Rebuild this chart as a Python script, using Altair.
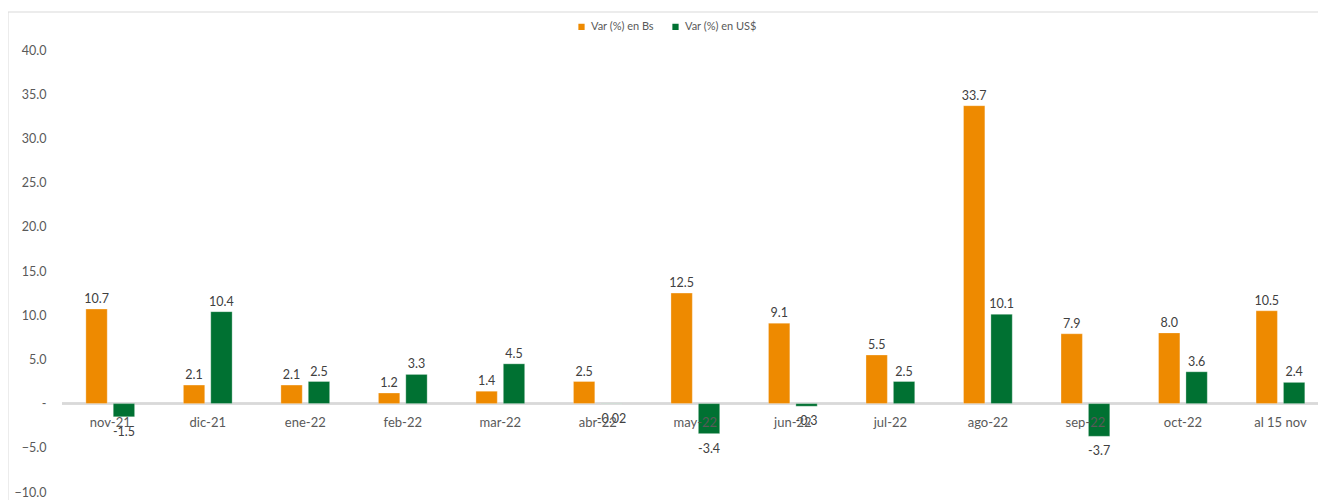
import altair as alt
import pandas as pd

categories = ["nov-21", "dic-21", "ene-22", "feb-22", "mar-22", "abr-22", "may-22",
              "jun-22", "jul-22", "ago-22", "sep-22", "oct-22", "al 15 nov"]
var_bs = [10.7, 2.1, 2.1, 1.2, 1.4, 2.5, 12.5, 9.1, 5.5, 33.7, 7.9, 8.0, 10.5]
var_usd = [-1.5, 10.4, 2.5, 3.3, 4.5, -0.02, -3.4, -0.3, 2.5, 10.1, -3.7, 3.6, 2.4]
series = ["Var (%) en Bs", "Var (%) en US$"]
colors = ["#EE8A00", "#007132"]
y_ticks = [-10, -5, 0, 5, 10, 15, 20, 25, 30, 35, 40]


def fmt(v):
    return f"{v:.2f}" if abs(v) < 0.05 else f"{v:.1f}"


rows = []
for c, b, u in zip(categories, var_bs, var_usd):
    rows.append({"cat": c, "serie": series[0], "value": b, "label": fmt(b)})
    rows.append({"cat": c, "serie": series[1], "value": u, "label": fmt(u)})
df = pd.DataFrame(rows)
cat_df = pd.DataFrame({"cat": categories})
one_df = pd.DataFrame({"k": [0]})

xscale = alt.Scale(paddingInner=0.5, paddingOuter=0.19, align=0.644)
x = alt.X("cat:N", sort=categories, scale=xscale, axis=None)
xoff = alt.XOffset("serie:N", sort=series, scale=alt.Scale(paddingInner=0.22, paddingOuter=0))
y = alt.Y("value:Q",
          scale=alt.Scale(domain=[-10, 40], nice=False, zero=False),
          axis=alt.Axis(values=y_ticks,
                        labelExpr="datum.value == 0 ? '-\u00a0\u00a0\u00a0' : format(datum.value, '.1f')",
                        grid=False, domain=False, ticks=False, labelPadding=16,
                        labelColor="#595959", labelFontSize=12.5, title=None))

base = alt.Chart(df)

bars = base.mark_bar(stroke="#ffffff", strokeWidth=0.6, strokeOpacity=0.5).encode(
    x=x, xOffset=xoff, y=y,
    color=alt.Color("serie:N", sort=series,
                    scale=alt.Scale(domain=series, range=colors),
                    legend=alt.Legend(orient="none", legendX=514, legendY=-29,
                                      direction="horizontal", title=None,
                                      symbolType="square", symbolSize=60,
                                      labelFontSize=11, labelColor="#595959",
                                      columnPadding=14, labelOffset=4)),
)

txt_pos = base.transform_filter("datum.value >= 0").mark_text(
    baseline="bottom", dy=-3, fontSize=12.5, color="#404040"
).encode(x=x, xOffset=xoff, y="value:Q", text="label:N")

txt_neg = base.transform_filter("datum.value < 0").mark_text(
    baseline="top", dy=9, fontSize=12.5, color="#404040"
).encode(x=x, xOffset=xoff, y="value:Q", text="label:N")

zero_rule = alt.Chart(cat_df).mark_rule(color="#d9d9d9", strokeWidth=1.5).encode(
    y=alt.datum(0), x=alt.value(0), x2=alt.value(1256)
)

cat_labels = alt.Chart(cat_df).mark_text(
    baseline="middle", dy=19, fontSize=13, color="#595959"
).encode(x=x, y=alt.datum(0), text="cat:N")

border_top = alt.Chart(one_df).mark_rect(color="#d9d9d9").encode(
    x=alt.value(-54), x2=alt.value(1256), y=alt.value(-38.5), y2=alt.value(-37.5)
)
border_left = alt.Chart(one_df).mark_rect(color="#d9d9d9").encode(
    x=alt.value(-54.5), x2=alt.value(-53.5), y=alt.value(-38), y2=alt.value(450)
)

chart = alt.layer(
    border_top, border_left, zero_rule, bars, txt_pos, txt_neg, cat_labels
).properties(
    width=1256, height=442,
    autosize=alt.AutoSizeParams(type="none"),
    padding={"left": 54, "top": 42, "right": 0, "bottom": 8},
).configure(font="Lato").configure_view(stroke="transparent", strokeWidth=0)

chart.save("out.html", embed_options={"renderer": "svg", "actions": False})
